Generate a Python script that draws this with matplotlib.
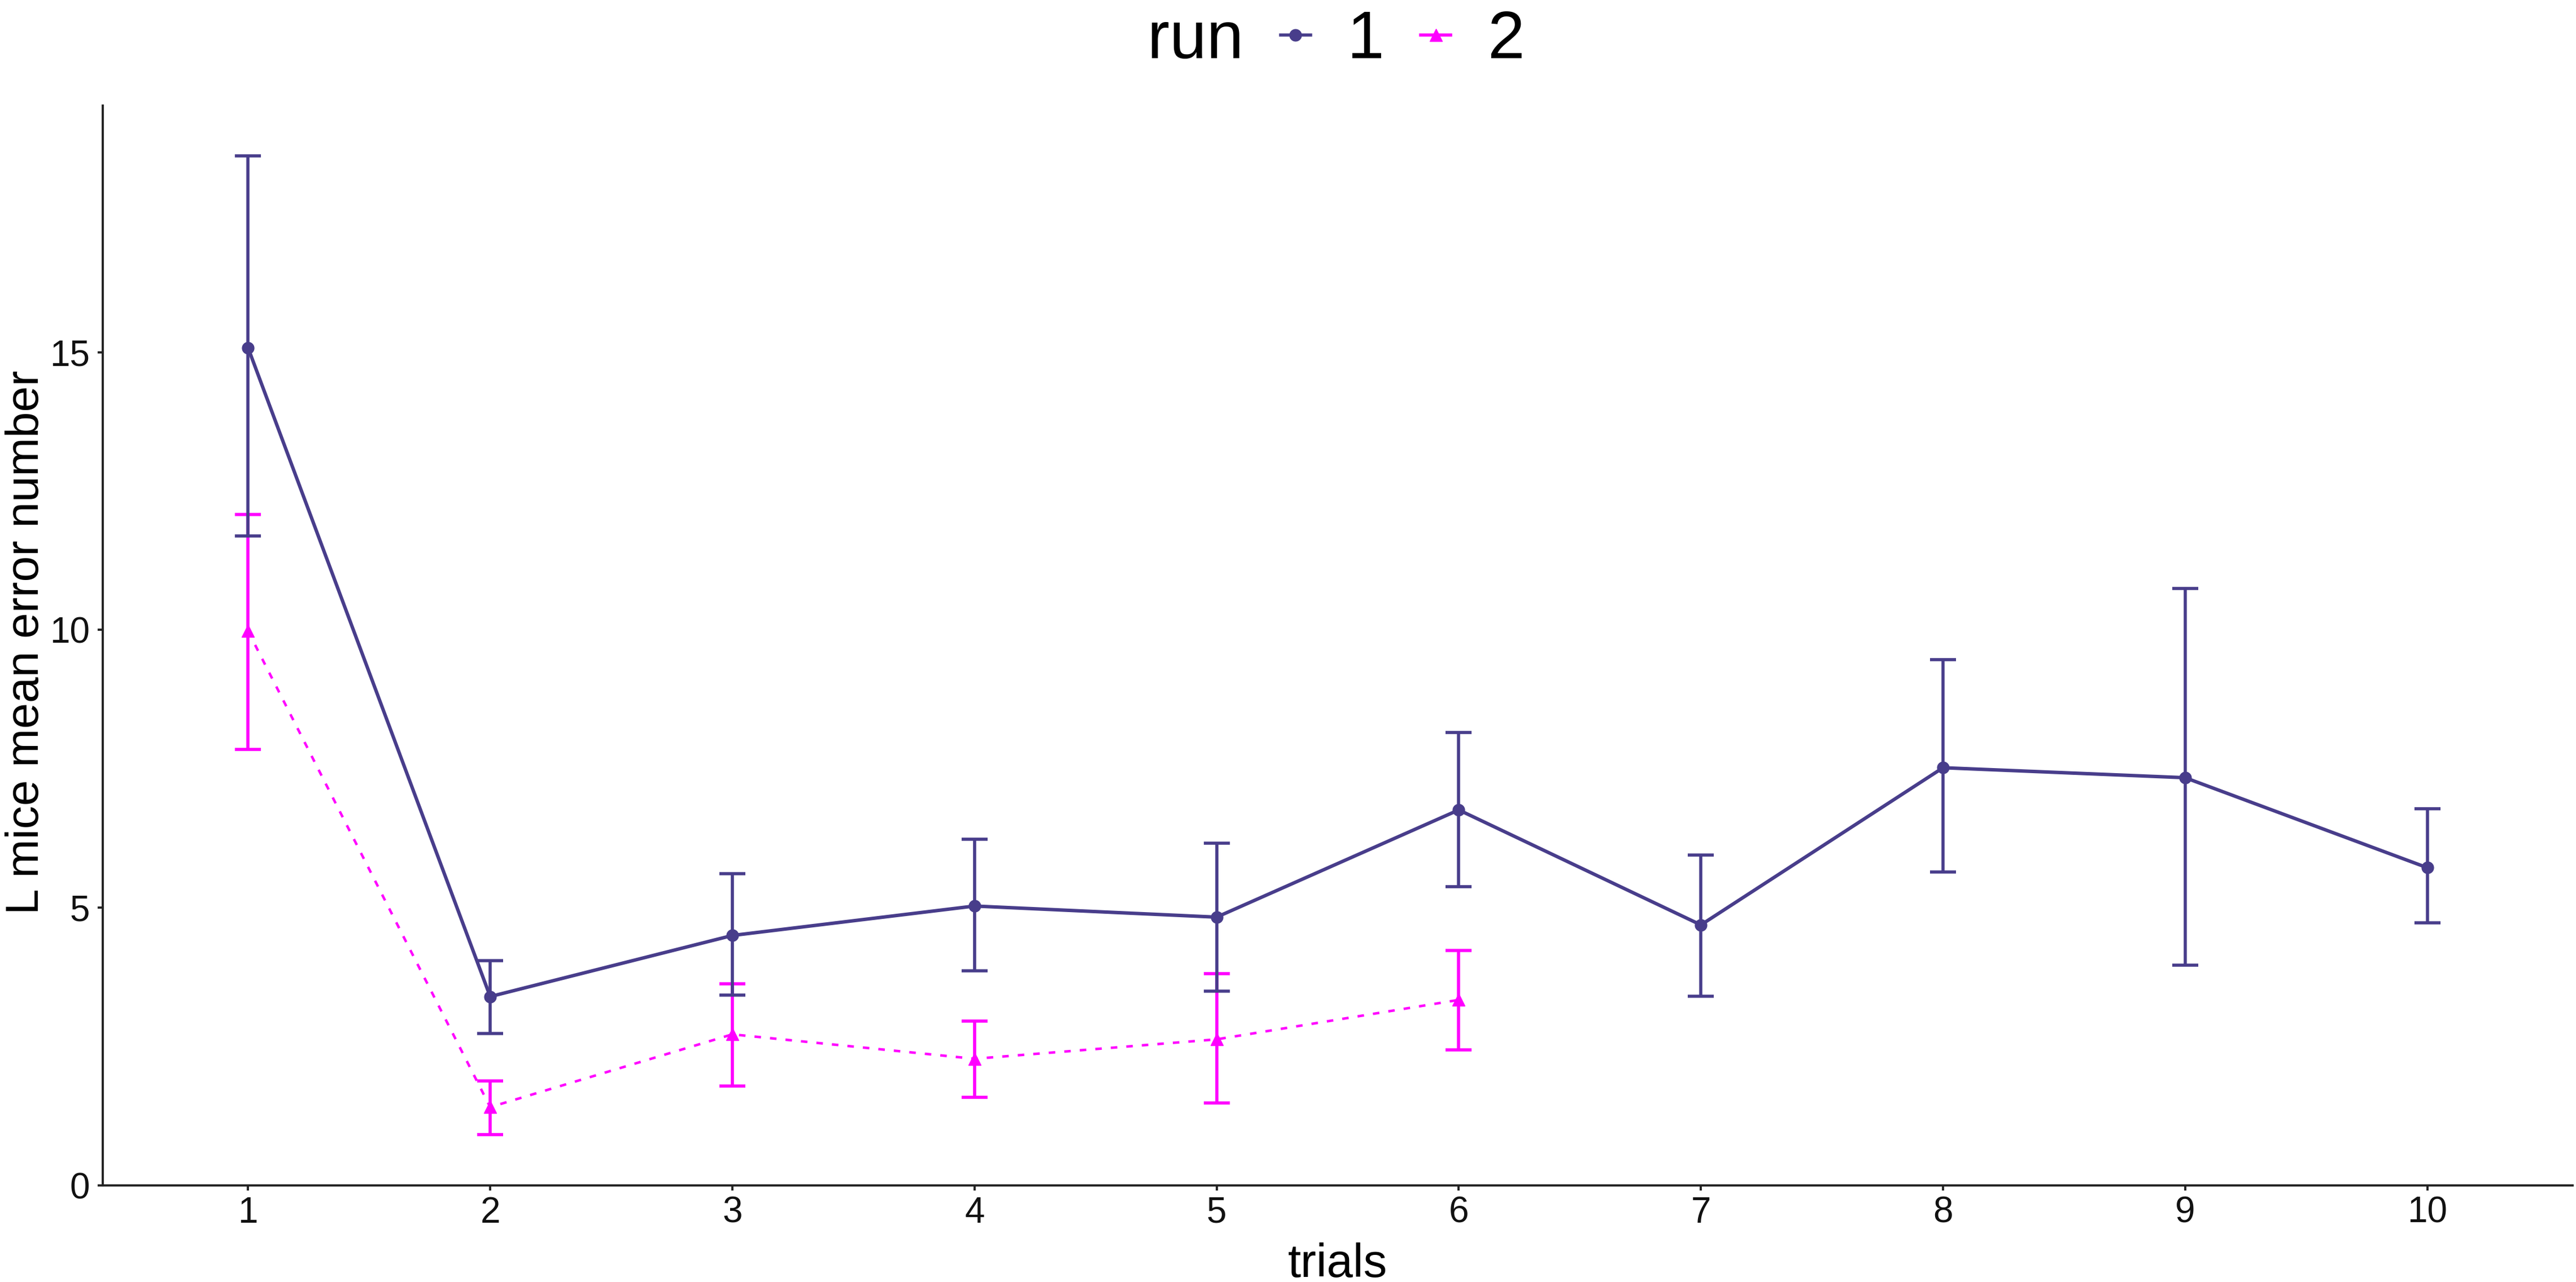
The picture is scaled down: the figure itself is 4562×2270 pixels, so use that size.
import numpy as np
import matplotlib
matplotlib.use('Agg')
import matplotlib.pyplot as plt
from matplotlib.lines import Line2D

plt.rcParams['font.family'] = ['Liberation Sans', 'DejaVu Sans']

# mean error number per trial, with error bar limits
trials_run1 = [1, 2, 3, 4, 5, 6, 7, 8, 9, 10]
mean_run1 = [15.08, 3.40, 4.50, 5.03, 4.83, 6.76, 4.69, 7.52, 7.34, 5.72]
upper_run1 = [18.54, 4.05, 5.61, 6.23, 6.16, 8.15, 5.95, 9.47, 10.75, 6.78]
lower_run1 = [11.69, 2.74, 3.43, 3.86, 3.50, 5.38, 3.41, 5.64, 3.97, 4.73]

trials_run2 = [1, 2, 3, 4, 5, 6]
mean_run2 = [9.98, 1.41, 2.72, 2.28, 2.63, 3.34]
upper_run2 = [12.08, 1.88, 3.63, 2.96, 3.81, 4.23]
lower_run2 = [7.85, 0.91, 1.79, 1.59, 1.48, 2.44]

x_ticks = [1, 2, 3, 4, 5, 6, 7, 8, 9, 10]
y_ticks = [0, 5, 10, 15]

c1 = '#483D8B'
c2 = '#FF00FF'

W, H = 4562, 2270
fig = plt.figure(figsize=(W / 100, H / 100), dpi=100)
ax = fig.add_axes([182 / W, (H - 2099) / H, (4556 - 182) / W, (2099 - 187) / H])

def err(mean, lo, up):
    m = np.array(mean)
    return [m - np.array(lo), np.array(up) - m]

ax.errorbar(trials_run2, mean_run2, yerr=err(mean_run2, lower_run2, upper_run2),
            fmt='none', ecolor=c2, elinewidth=4, capsize=16.5, capthick=4, zorder=2)
ax.plot(trials_run2, mean_run2, color=c2, lw=3.2, dashes=(2.6, 3.6),
        marker='^', ms=16, zorder=3)

ax.errorbar(trials_run1, mean_run1, yerr=err(mean_run1, lower_run1, upper_run1),
            fmt='none', ecolor=c1, elinewidth=4, capsize=16.5, capthick=4, zorder=4)
ax.plot(trials_run1, mean_run1, color=c1, lw=4.4, marker='o', ms=15, zorder=5)

ax.set_xlim(0.4, 10.6)
ax.set_ylim(0, 19.44)
ax.set_xticks(x_ticks)
ax.set_yticks(y_ticks)

for s in ['top', 'right']:
    ax.spines[s].set_visible(False)
for s in ['left', 'bottom']:
    ax.spines[s].set_color('#222222')
    ax.spines[s].set_linewidth(2.8)

ax.tick_params(axis='both', length=6.5, width=2.8, color='#222222',
               labelsize=46, labelcolor='#111111')
ax.tick_params(axis='x', pad=7)
ax.tick_params(axis='y', pad=10)

ax.set_xlabel('trials', fontsize=60, color='black', va='baseline')
ax.xaxis.set_label_coords(0.5, (2099 - 2261) / 1912)
ax.set_ylabel('L mice mean error number', fontsize=59, color='black',
              rotation=90, rotation_mode='anchor', va='baseline', ha='center')
ax.yaxis.set_label_coords((68 - 182) / 4374, 0.503)

handles = [Line2D([], [], color='none'),
           Line2D([], [], color=c1, lw=4, marker='o', ms=15),
           Line2D([], [], color=c2, lw=4, marker='^', ms=16)]
fig.legend(handles=handles, labels=['run', '1', '2'], ncol=3,
           loc='upper center', bbox_to_anchor=(0.5057, 0.9925), frameon=False,
           fontsize=85, handlelength=0.45, handletextpad=0.55,
           columnspacing=0.55, borderpad=0.0, borderaxespad=0.0)

fig.savefig('out.png', dpi=100, facecolor='white')
